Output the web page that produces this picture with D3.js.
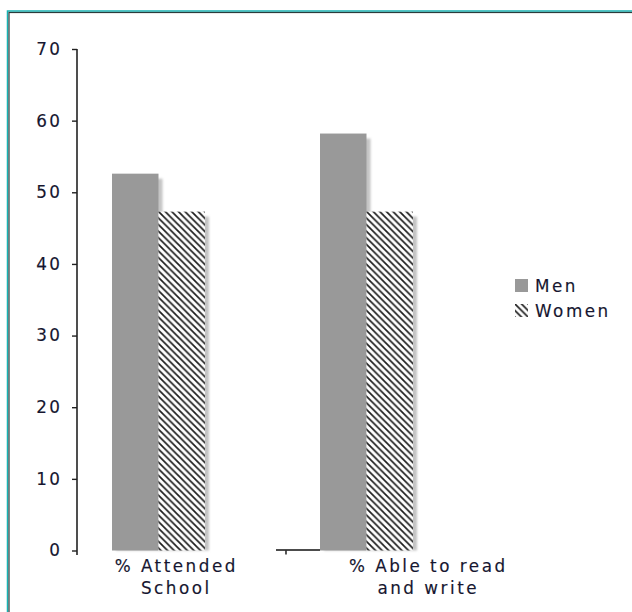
<!DOCTYPE html>
<html>
<head>
<meta charset="utf-8">
<script src="https://cdn.jsdelivr.net/npm/d3@7"></script>
<style>
  html, body { margin: 0; padding: 0; background: #fff; }
  svg { display: block; }
  text { font-family: "DejaVu Sans", Verdana, sans-serif; fill: #161630; stroke: #161630; stroke-width: 0.15px; }
</style>
</head>
<body>
<svg id="chart" width="632" height="612"></svg>
<script>
// Literacy and schooling, men vs women (percent)
const categories = ["% Attended School", "% Able to read and write"];
const categoryLines = [["% Attended", "School"], ["% Able to read", "and write"]];
const series = ["Men", "Women"];
const menValues = [52.6, 58.2];
const womenValues = [47.3, 47.3];
const yTicks = [0, 10, 20, 30, 40, 50, 60, 70];

const svg = d3.select("#chart");
const FS = "16.8px", LSn = 2.5, LS = LSn + "px";

// Frame
svg.append("rect").attr("x", 7.5).attr("y", 11).attr("width", 640).attr("height", 640)
  .attr("fill", "none").attr("stroke", "#17b3b3").attr("stroke-width", 1.5);
svg.append("rect").attr("x", 9).attr("y", 12.5).attr("width", 640).attr("height", 640)
  .attr("fill", "none").attr("stroke", "#2b3b3b").attr("stroke-width", 1.2);

const defs = svg.append("defs");
const P = 6.6;
const hatch = defs.append("pattern").attr("id", "hatch")
  .attr("patternUnits", "userSpaceOnUse").attr("width", P).attr("height", P);
hatch.append("rect").attr("width", P).attr("height", P).attr("fill", "#fff");
hatch.append("path")
  .attr("d", `M0,0L${P},${P}M${-P / 2},${P / 2}L${P / 2},${1.5 * P}M${P / 2},${-P / 2}L${1.5 * P},${P / 2}`)
  .attr("stroke", "#1e1e1e").attr("stroke-width", 1.7);
const blur = defs.append("filter").attr("id", "soft").attr("x", "-20%").attr("y", "-20%")
  .attr("width", "140%").attr("height", "140%");
blur.append("feGaussianBlur").attr("stdDeviation", 1.2);

// Scales
const y = d3.scaleLinear().domain([0, 70]).range([550.5, 49]);
const x0 = d3.scaleBand().domain(categories).range([54.5, 470.5])
  .paddingInner(0.553).paddingOuter(0.2765);
const x1 = d3.scaleBand().domain(series).range([0, x0.bandwidth()]);
const xLabel = d3.scalePoint().domain(categories).range([175, 427]);

const data = categories.map((c, i) => ({
  cat: c,
  vals: [{ s: "Men", v: menValues[i] }, { s: "Women", v: womenValues[i] }]
}));
const fillFor = s => s === "Men" ? "#999999" : "url(#hatch)";

const groups = svg.append("g").selectAll("g").data(data).join("g")
  .attr("transform", d => `translate(${x0(d.cat)},0)`);

// Drop shadows, drawn behind the bars
groups.selectAll("rect.shadow").data(d => d.vals).join("rect")
  .attr("class", "shadow")
  .attr("x", d => x1(d.s) + 4)
  .attr("y", d => y(d.v) + 5)
  .attr("width", x1.bandwidth())
  .attr("height", d => y(0) - y(d.v) - 5)
  .attr("fill", "#c4c4c4")
  .attr("filter", "url(#soft)");

groups.selectAll("rect.bar").data(d => d.vals).join("rect")
  .attr("class", "bar")
  .attr("x", d => x1(d.s))
  .attr("y", d => y(d.v))
  .attr("width", x1.bandwidth())
  .attr("height", d => y(0) - y(d.v))
  .attr("fill", d => fillFor(d.s));

// Y axis
const yAxis = d3.axisLeft(y).tickValues(yTicks).tickSize(5).tickPadding(12 - LSn).tickSizeOuter(0);
const ga = svg.append("g").attr("transform", "translate(77,0)").call(yAxis);
ga.select(".domain").remove();
ga.append("line").attr("x1", 0).attr("x2", 0).attr("y1", y(70)).attr("y2", y(0) + 4.5)
  .attr("stroke", "#222").attr("stroke-width", 1.6);
ga.selectAll(".tick line").attr("stroke", "#222").attr("stroke-width", 1.4);
ga.selectAll(".tick text")
  .style("font-family", "'DejaVu Sans', Verdana, sans-serif")
  .style("font-size", FS).style("letter-spacing", LS)
  .attr("fill", "#161630");

// Short category axis segment between the groups
const segL = x0(categories[0]) + x0.bandwidth() + 71;
svg.append("line").attr("x1", segL).attr("x2", x0(categories[1]))
  .attr("y1", y(0) - 0.5).attr("y2", y(0) - 0.5)
  .attr("stroke", "#111").attr("stroke-width", 1.6);
svg.append("line").attr("x1", segL + 10).attr("x2", segL + 10)
  .attr("y1", y(0)).attr("y2", y(0) + 4)
  .attr("stroke", "#111").attr("stroke-width", 1.4);

// Category labels
categories.forEach((c, i) => {
  const t = svg.append("text").attr("text-anchor", "middle")
    .attr("y", y(0) + 21)
    .style("font-size", FS).style("letter-spacing", LS);
  categoryLines[i].forEach((ln, j) => {
    t.append("tspan").attr("x", xLabel(c) + LSn / 2).attr("dy", j === 0 ? 0 : 22).text(ln);
  });
});

// Legend
const leg = svg.append("g").attr("transform", "translate(515,279)");
series.forEach((s, i) => {
  const g = leg.append("g").attr("transform", `translate(0,${i * 25})`);
  g.append("rect").attr("width", 13).attr("height", 13).attr("fill", fillFor(s));
  g.append("text").attr("x", 20).attr("y", 12.5)
    .style("font-size", FS).style("letter-spacing", LS).text(s);
});
</script>
</body>
</html>
